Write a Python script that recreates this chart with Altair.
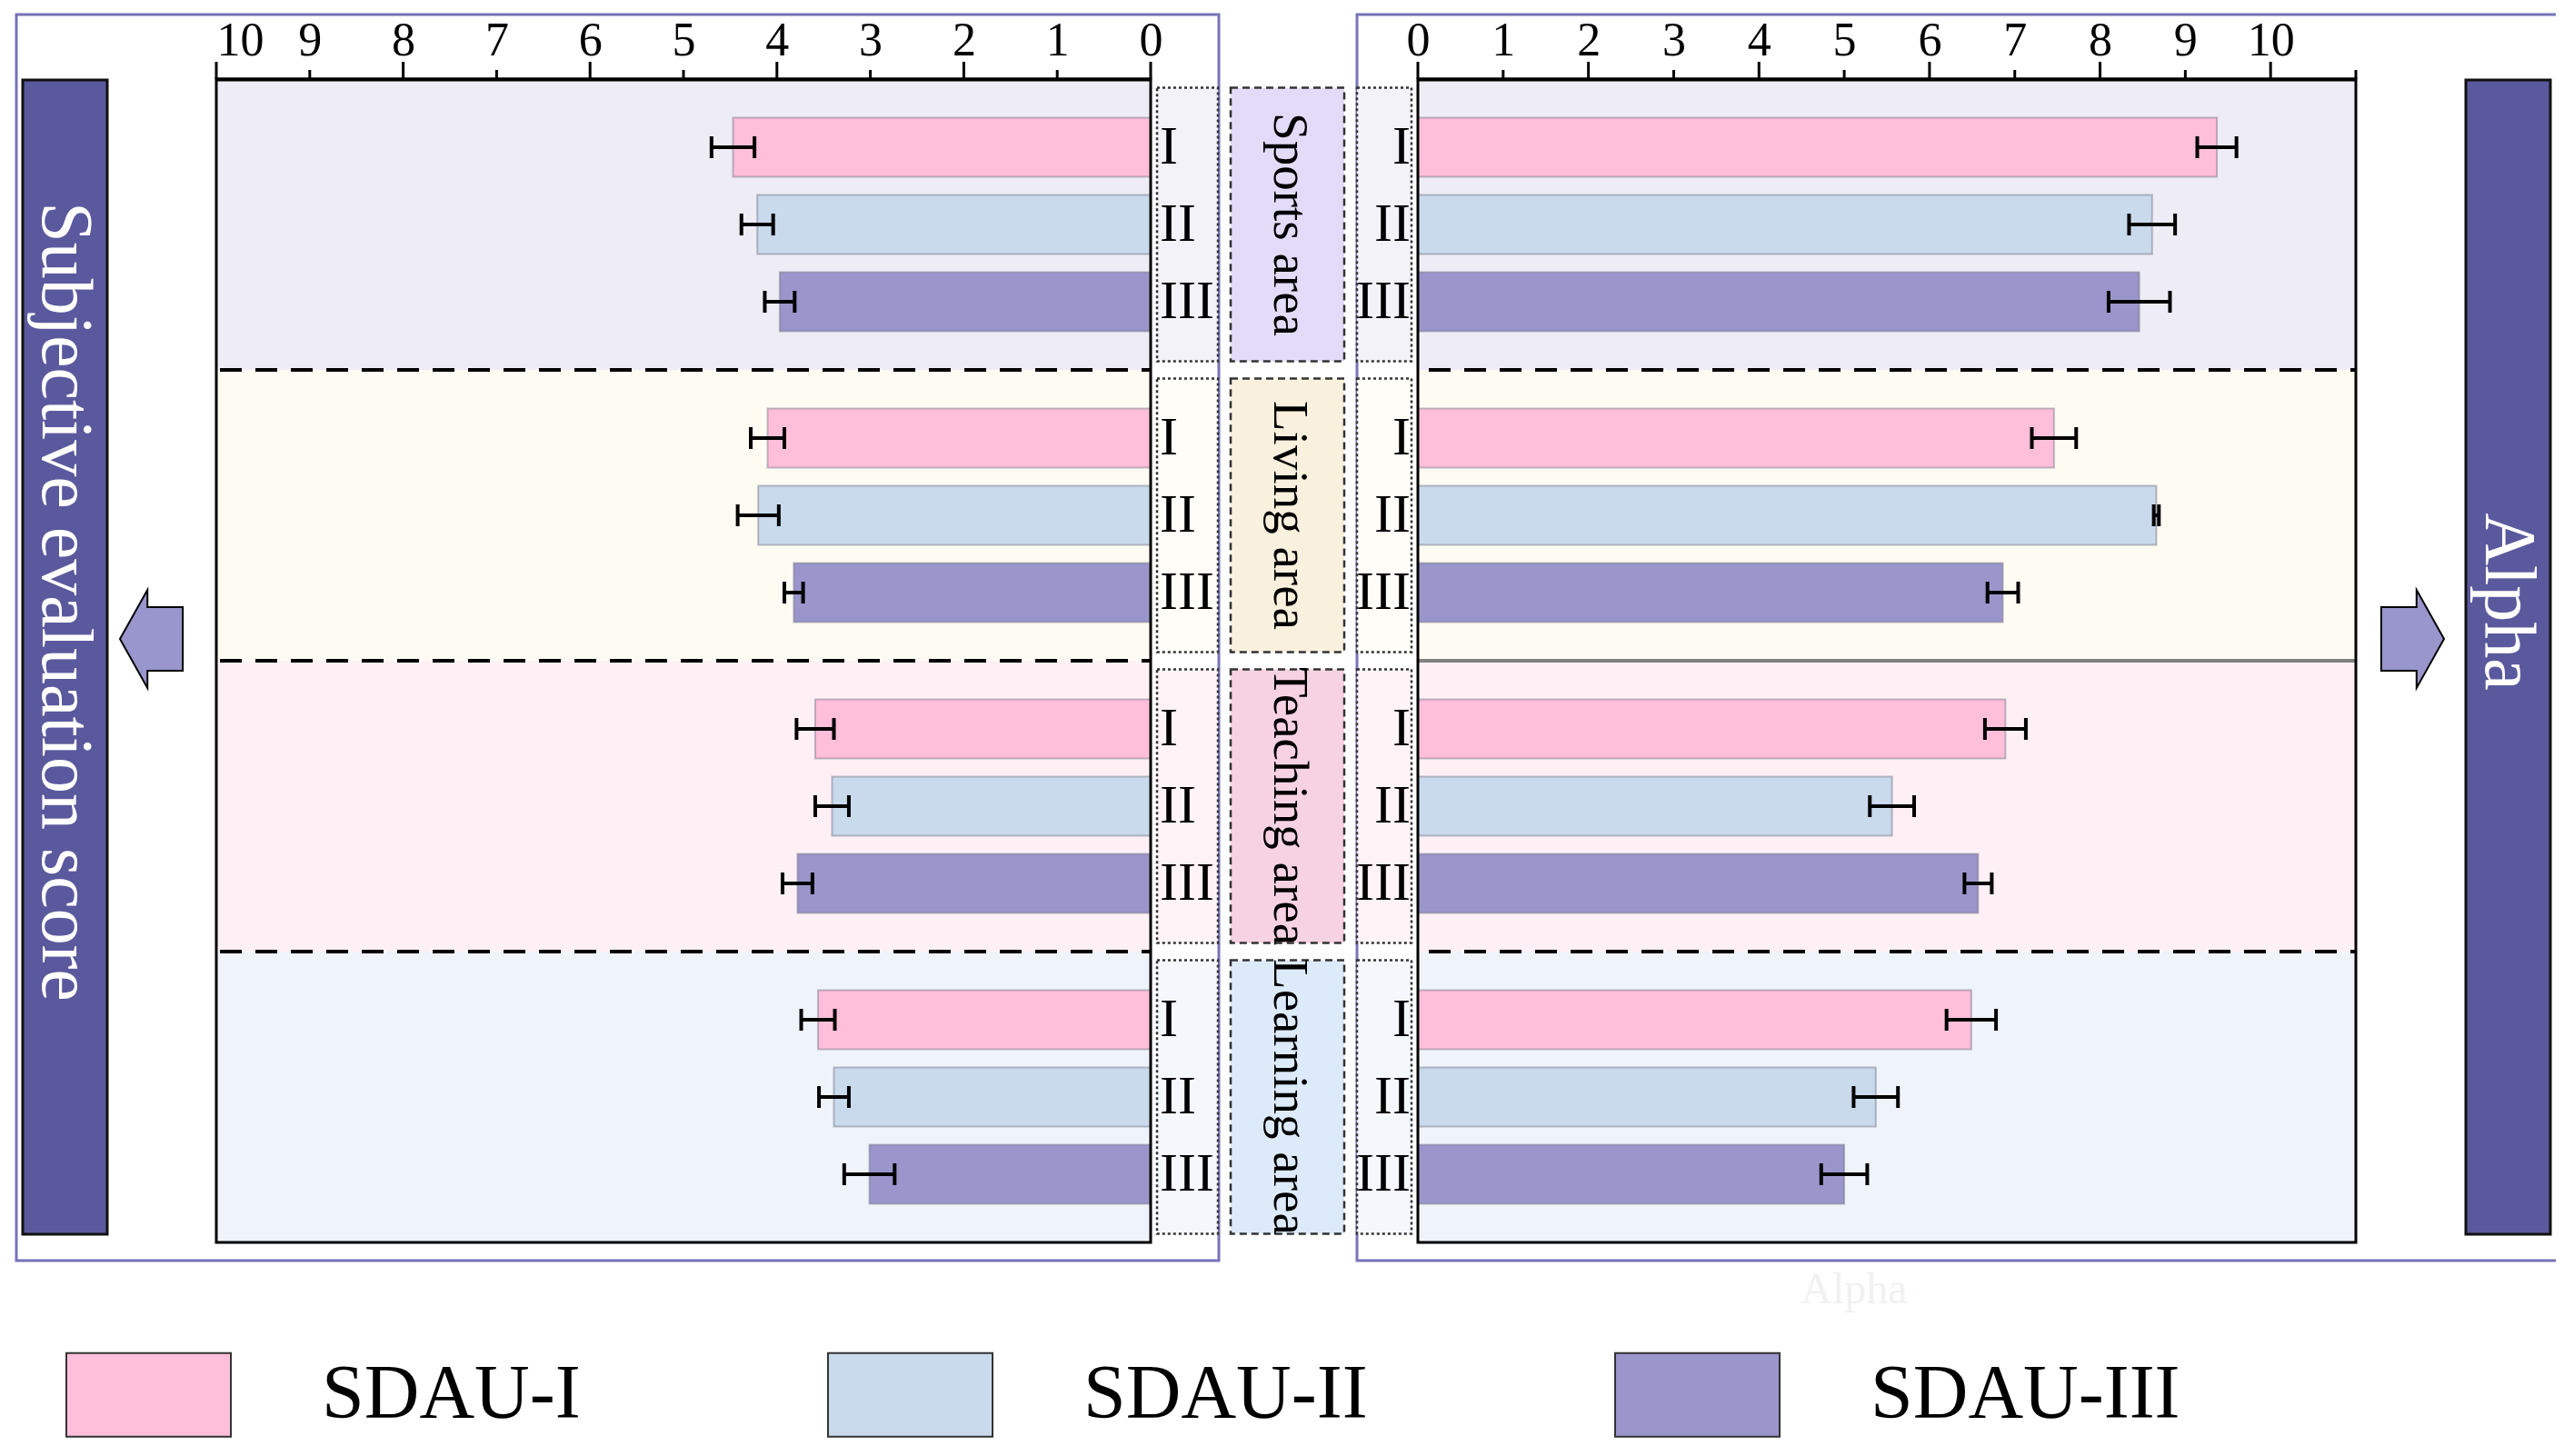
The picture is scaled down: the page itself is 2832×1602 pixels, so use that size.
import altair as alt
import pandas as pd

# ---------------- data ----------------
SECTIONS = ["Sports area", "Living area", "Teaching area", "Learning area"]
GROUPS = ["I", "II", "III"]
SERIES = ["SDAU-I", "SDAU-II", "SDAU-III"]

SCORE_MEAN = [[4.47, 4.21, 3.97], [4.10, 4.20, 3.82], [3.59, 3.41, 3.78], [3.56, 3.39, 3.01]]
SCORE_ERR = [[0.23, 0.17, 0.16], [0.18, 0.22, 0.10], [0.20, 0.18, 0.16], [0.18, 0.16, 0.27]]
ALPHA_MEAN = [[9.37, 8.61, 8.46], [7.46, 8.66, 6.86], [6.89, 5.56, 6.57], [6.49, 5.37, 5.00]]
ALPHA_ERR = [[0.23, 0.27, 0.36], [0.26, 0.03, 0.18], [0.24, 0.26, 0.16], [0.29, 0.26, 0.27]]

LEFT_TICKS = list(range(0, 11))
RIGHT_TICKS = list(range(0, 12))
RIGHT_LABELS = list(range(0, 11))
LEFT_TITLE = "Subjective evaluation score"
RIGHT_TITLE = "Alpha"

rows = []
for i, s in enumerate(SECTIONS):
    for j, g in enumerate(GROUPS):
        rows.append({"section": s, "group": g, "series": SERIES[j],
                     "score": SCORE_MEAN[i][j], "score_err": SCORE_ERR[i][j],
                     "alpha": ALPHA_MEAN[i][j], "alpha_err": ALPHA_ERR[i][j]})
df = pd.DataFrame(rows)
df_sec = pd.DataFrame({"section": SECTIONS})
df_lt = pd.DataFrame({"v": LEFT_TICKS})
df_rt = pd.DataFrame({"v": RIGHT_TICKS})
df_one = pd.DataFrame({"k": [0]})

# ---------------- styles ----------------
FONT = "Liberation Serif"
W, H = 2354, 1280
L0, L1 = 0, 1028
R0, R1 = 1322, 2354
BAR_COLORS = ["#ffbfda", "#c9daec", "#9a96cc"]
BG_COLORS = ["#eeecf5", "#fefbf3", "#fff0f6", "#eff4fb"]
LBL_BOX = ["#f3f2f9", "#fffdf7", "#fff3f8", "#f4f7fc"]
SEC_BOX = ["#e2dcf9", "#f9f0dd", "#f6d2e2", "#ddeafa"]
TITLE_FILL = "#5b599d"
ARROW_FILL = "#9896cc"
BOX_STROKE = "#7773b8"

YSCALE = alt.Scale(domain=SECTIONS, paddingInner=0, paddingOuter=0)
YOSCALE = alt.Scale(domain=GROUPS, paddingInner=0.235, paddingOuter=0.5)
LSCALE = alt.Scale(domain=[0, 10], range=[L1, L0], nice=False)
RSCALE = alt.Scale(domain=[0, 11], range=[R0, R1], nice=False)


def y_sec(band=None):
    if band is None:
        return alt.Y("section:N", scale=YSCALE, axis=None)
    return alt.Y("section:N", scale=YSCALE, axis=None, bandPosition=band)


def y_off():
    return alt.YOffset("group:N", scale=YOSCALE)


def axis(values, flush_value=None):
    align = "center"
    if flush_value is not None:
        align = {"condition": {"test": f"datum.value == {flush_value}", "value": "left"},
                 "value": "center"}
    return alt.Axis(orient="top", values=values, ticks=False, labelPadding=27,
                    labelBaseline="alphabetic", labelAlign=align,
                    domainWidth=4, domainColor="black", labelFont=FONT,
                    labelFontSize=52, labelColor="black", grid=False, title=None,
                    labelFlush=False, zindex=1)


LEGEND_PATH = "M -1 -0.508 L 1 -0.508 L 1 0.508 L -1 0.508 Z"
legend = alt.Legend(orient="none", legendX=-166, legendY=1356, direction="horizontal",
                    title=None, symbolType=LEGEND_PATH, symbolSize=32761,
                    labelFont=FONT, labelFontSize=84, labelOffset=99, columnPadding=268,
                    symbolStrokeColor="#333333", symbolStrokeWidth=2, labelColor="black",
                    labelLimit=800, symbolOpacity=1)
color = alt.Color("series:N", scale=alt.Scale(domain=SERIES, range=BAR_COLORS), legend=legend)

layers = []

# outer boxes
for a, b in [(-220, 1103), (1255, 2576)]:
    layers.append(alt.Chart(df_one).mark_rect(fill="white", fillOpacity=0, stroke=BOX_STROKE,
                                              strokeWidth=3).encode(
        x=alt.value(a), x2=alt.value(b), y=alt.value(-71), y2=alt.value(1300)))

# title bars
for a, b in [(-213, -120), (2475, 2568)]:
    layers.append(alt.Chart(df_one).mark_rect(fill=TITLE_FILL, stroke="#111111",
                                              strokeWidth=3).encode(
        x=alt.value(a), x2=alt.value(b), y=alt.value(1), y2=alt.value(1271)))
for xpos, txt in [(-167, LEFT_TITLE), (2521, RIGHT_TITLE)]:
    layers.append(alt.Chart(pd.DataFrame({"t": [txt]})).mark_text(
        angle=90, font=FONT, fontSize=80, color="white", align="center",
        baseline="middle").encode(x=alt.value(xpos), y=alt.value(575), text="t:N"))

# arrows
LEFT_ARROW = "M -0.63 0 L -0.07 -1 L -0.07 -0.65 L 0.65 -0.65 L 0.65 0.65 L -0.07 0.65 L -0.07 1 Z"
RIGHT_ARROW = "M 0.63 0 L 0.07 -1 L 0.07 -0.65 L -0.65 -0.65 L -0.65 0.65 L 0.07 0.65 L 0.07 1 Z"
for xpos, shp in [(-72, LEFT_ARROW), (2417, RIGHT_ARROW)]:
    layers.append(alt.Chart(df_one).mark_point(shape=shp, size=11664, filled=True,
                                               color=ARROW_FILL, stroke="black",
                                               strokeWidth=2, opacity=1).encode(
        x=alt.value(xpos), y=alt.value(616)))

# plot backgrounds
for a, b in [(L0, L1), (R0, R1)]:
    layers.append(alt.Chart(df_sec).mark_rect().encode(
        x=alt.value(a), x2=alt.value(b), y=y_sec(),
        fill=alt.Fill("section:N", scale=alt.Scale(domain=SECTIONS, range=BG_COLORS), legend=None)))

# label boxes (dotted) and section boxes (dashed)
for a, b, cols, dash in [(1035, 1102, LBL_BOX, [3, 3]), (1255, 1315, LBL_BOX, [3, 3]),
                         (1116, 1241, SEC_BOX, [8, 5])]:
    layers.append(alt.Chart(df_sec).mark_bar(height={"band": 0.94}, stroke="#333333",
                                             strokeDash=dash, strokeWidth=2.5).encode(
        x=alt.value(a), x2=alt.value(b), y=y_sec(),
        fill=alt.Fill("section:N", scale=alt.Scale(domain=SECTIONS, range=cols), legend=None)))

# separators
layers.append(alt.Chart(df_sec).transform_filter(alt.datum.section != SECTIONS[0]).mark_rule(
    color="black", strokeWidth=4, strokeDash=[24, 15]).encode(
    x=alt.value(L0 + 4), x2=alt.value(L1), y=y_sec(0)))
layers.append(alt.Chart(df_sec).transform_filter(
    (alt.datum.section == SECTIONS[1]) | (alt.datum.section == SECTIONS[3])).mark_rule(
    color="black", strokeWidth=4, strokeDash=[24, 15]).encode(
    x=alt.value(R0 + 12), x2=alt.value(R1), y=y_sec(0)))
layers.append(alt.Chart(df_sec).transform_filter(alt.datum.section == SECTIONS[2]).mark_rule(
    color="#808080", strokeWidth=4).encode(
    x=alt.value(R0), x2=alt.value(R1), y=y_sec(0)))

# bars
layers.append(alt.Chart(df).mark_bar(stroke="#6f6f80", strokeOpacity=0.45, strokeWidth=2).encode(
    x=alt.X("score:Q", scale=LSCALE, axis=axis(LEFT_TICKS, flush_value=10)), y=y_sec(),
    yOffset=y_off(), color=color))
layers.append(alt.Chart(df).mark_bar(stroke="#6f6f80", strokeOpacity=0.45, strokeWidth=2).encode(
    x=alt.X("alpha:Q", scale=RSCALE, axis=axis(RIGHT_LABELS)), y=y_sec(), yOffset=y_off(),
    color=color))

# error bars
for field, err, sc in [("score", "score_err", LSCALE), ("alpha", "alpha_err", RSCALE)]:
    base = alt.Chart(df).transform_calculate(
        lo=f"datum.{field} - datum.{err}", hi=f"datum.{field} + datum.{err}")
    layers.append(base.mark_rule(color="black", strokeWidth=4).encode(
        x=alt.X("lo:Q", scale=sc, axis=None), x2="hi:Q", y=y_sec(), yOffset=y_off()))
    for f in ["lo", "hi"]:
        layers.append(base.mark_tick(color="black", thickness=4, size=24, opacity=1).encode(
            x=alt.X(f"{f}:Q", scale=sc, axis=None), y=y_sec(), yOffset=y_off()))

# plot frames
for a, b in [(L0, L1), (R0, R1)]:
    layers.append(alt.Chart(df_one).mark_rect(fill="white", fillOpacity=0, stroke="black",
                                              strokeWidth=3).encode(
        x=alt.value(a), x2=alt.value(b), y=alt.value(0), y2=alt.value(H)))

# axis ticks (long on even, short on odd values)
for d, sc in [(df_lt, LSCALE), (df_rt, RSCALE)]:
    layers.append(alt.Chart(d).transform_filter("datum.v % 2 == 0").mark_rule(
        color="black", strokeWidth=3).encode(
        x=alt.X("v:Q", scale=sc, axis=None), y=alt.value(-19), y2=alt.value(0)))
    layers.append(alt.Chart(d).transform_filter("datum.v % 2 == 1").mark_rule(
        color="black", strokeWidth=3).encode(
        x=alt.X("v:Q", scale=sc, axis=None), y=alt.value(-10), y2=alt.value(0)))

# group labels
layers.append(alt.Chart(df).mark_text(font=FONT, fontSize=60, align="left", baseline="middle",
                                      color="black").encode(
    x=alt.value(1038), y=y_sec(), yOffset=y_off(), text="group:N"))
layers.append(alt.Chart(df).mark_text(font=FONT, fontSize=60, align="right", baseline="middle",
                                      color="black").encode(
    x=alt.value(1314), y=y_sec(), yOffset=y_off(), text="group:N"))

# section labels
layers.append(alt.Chart(df_sec).mark_text(font=FONT, fontSize=55, angle=90, align="center",
                                          baseline="middle", color="black").encode(
    x=alt.value(1181), y=y_sec(), text="section:N"))

# faint caption under the right panel
layers.append(alt.Chart(pd.DataFrame({"t": [RIGHT_TITLE]})).mark_text(
    font=FONT, fontSize=48, color="#f1f1f1", align="center", baseline="middle").encode(
    x=alt.value(1802), y=alt.value(1333), text="t:N"))

chart = alt.layer(*layers).resolve_scale(x="independent", fill="independent").properties(
    width=W, height=H,
    autosize=alt.AutoSizeParams(type="none"),
    padding={"left": 230, "top": 79, "right": 220, "bottom": 230},
).configure_view(strokeWidth=0)

chart.save("out.html", embed_options={"renderer": "svg", "actions": False})
